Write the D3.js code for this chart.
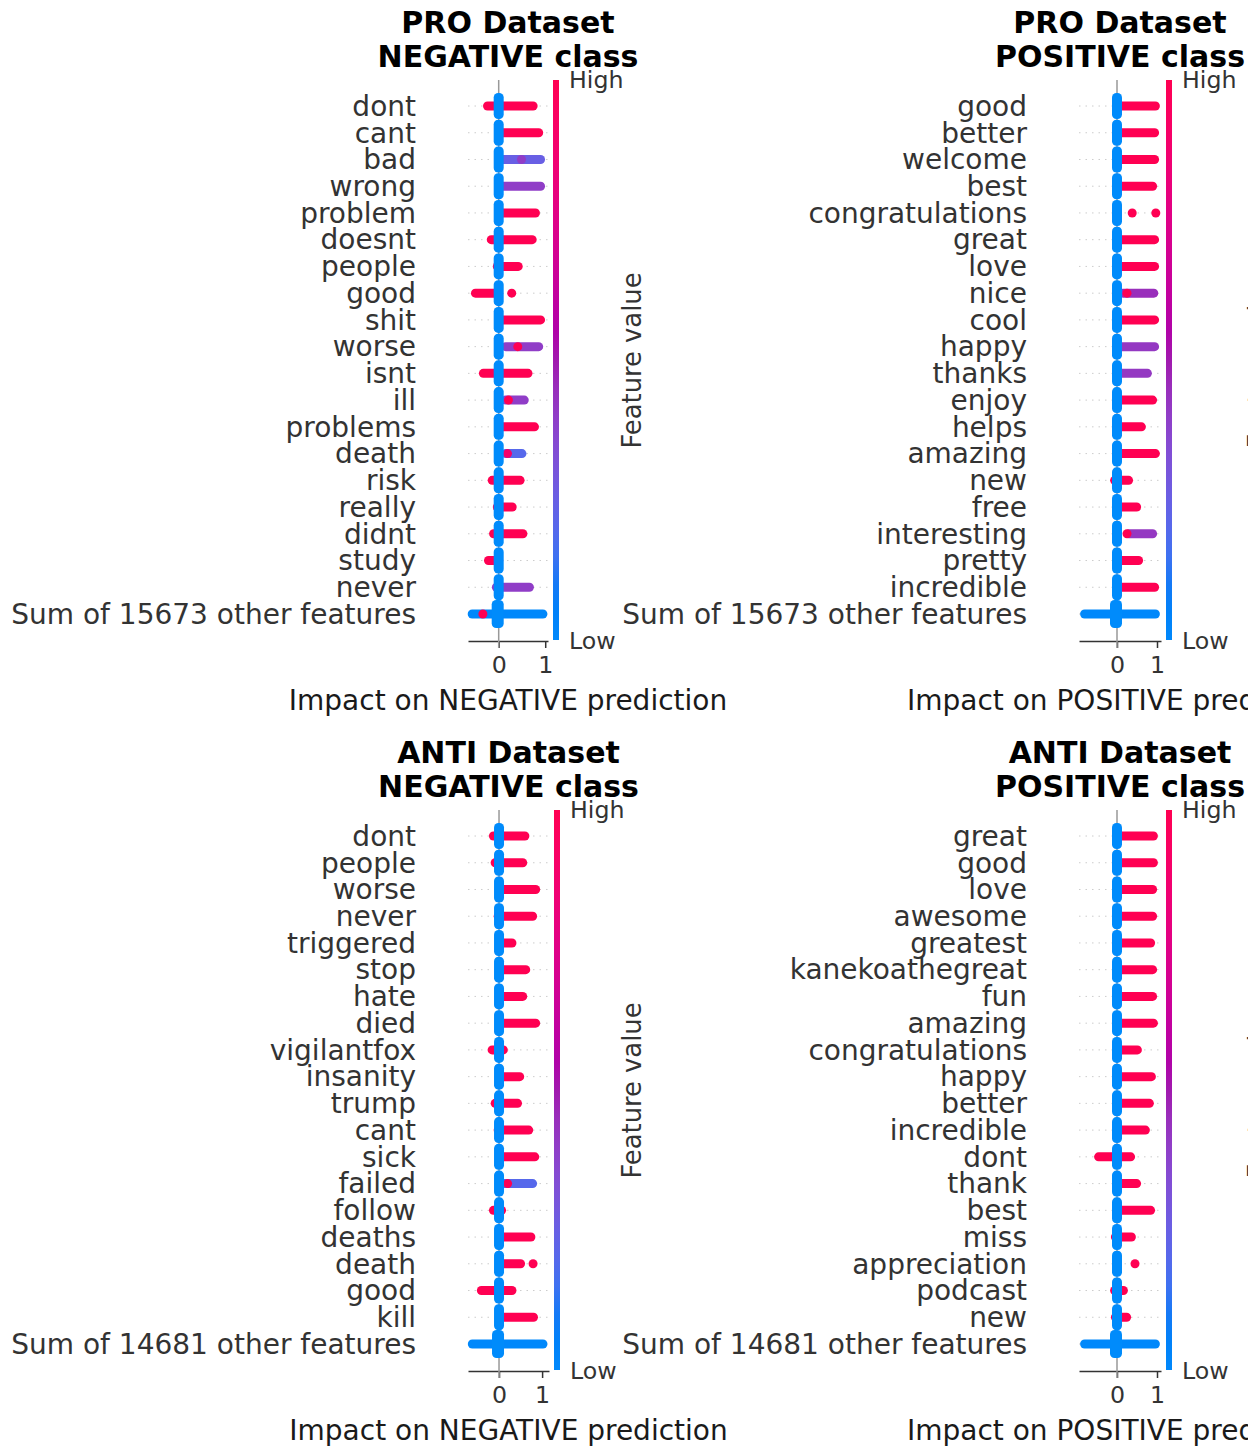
<!DOCTYPE html>
<html>
<head>
<meta charset="utf-8">
<script src="https://cdn.jsdelivr.net/npm/d3@7"></script>
<style>
body { margin: 0; background: #fff; }
svg { display: block; font-family: "DejaVu Sans", sans-serif; }
</style>
</head>
<body>
<svg id="chart"></svg>
<script>
// feature names per panel (top to bottom)
const proNegFeatures = ["dont", "cant", "bad", "wrong", "problem", "doesnt", "people", "good", "shit", "worse",
	"isnt", "ill", "problems", "death", "risk", "really", "didnt", "study", "never", "Sum of 15673 other features"];
const proPosFeatures = ["good", "better", "welcome", "best", "congratulations", "great", "love", "nice", "cool", "happy",
	"thanks", "enjoy", "helps", "amazing", "new", "free", "interesting", "pretty", "incredible", "Sum of 15673 other features"];
const antiNegFeatures = ["dont", "people", "worse", "never", "triggered", "stop", "hate", "died", "vigilantfox", "insanity",
	"trump", "cant", "sick", "failed", "follow", "deaths", "death", "good", "kill", "Sum of 14681 other features"];
const antiPosFeatures = ["great", "good", "love", "awesome", "greatest", "kanekoathegreat", "fun", "amazing", "congratulations", "happy",
	"better", "incredible", "dont", "thank", "best", "miss", "appreciation", "podcast", "new", "Sum of 14681 other features"];

// dense runs of SHAP values per row: [lowest, highest, feature value 0..1]
// (the big cloud of low-value points sitting on 0 is drawn separately)
const proNegRuns = [
	[[-0.24, 0.74, 1]],
	[[0.1, 0.86, 1]],
	[[0.1, 0.9, 0.25], [0.49, 0.49, 0.4]],
	[[0.1, 0.9, 0.4]],
	[[0.1, 0.79, 1]],
	[[-0.16, 0.72, 1]],
	[[-0.03, 0.42, 1]],
	[[-0.5, 0, 1], [0.28, 0.28, 1]],
	[[0.1, 0.9, 1]],
	[[0.15, 0.86, 0.4], [0.41, 0.41, 1]],
	[[-0.33, 0.63, 1]],
	[[0.15, 0.55, 0.4], [0.21, 0.21, 1]],
	[[0.05, 0.77, 1]],
	[[0.15, 0.5, 0.2], [0.19, 0.19, 0.9]],
	[[-0.14, 0.46, 1]],
	[[-0.03, 0.29, 1]],
	[[-0.11, 0.52, 1]],
	[[-0.22, 0, 1]],
	[[-0.05, 0.66, 0.4]],
	[[-0.57, 0.95, 0], [-0.34, -0.34, 1]]
];
const proPosRuns = [
	[[0.1, 0.96, 1]],
	[[0.1, 0.94, 1]],
	[[0.1, 0.94, 1]],
	[[0.1, 0.89, 1]],
	[[0.38, 0.38, 1], [0.97, 0.97, 1]],
	[[0.1, 0.94, 1]],
	[[0.1, 0.94, 1]],
	[[0.15, 0.92, 0.45], [0.25, 0.25, 1]],
	[[0.1, 0.94, 1]],
	[[0.1, 0.94, 0.42]],
	[[0.1, 0.76, 0.42]],
	[[0.1, 0.89, 1]],
	[[0.1, 0.61, 1]],
	[[0.1, 0.96, 1]],
	[[-0.06, 0.29, 1]],
	[[0.1, 0.49, 1]],
	[[0.3, 0.89, 0.42], [0.25, 0.25, 1]],
	[[0.1, 0.54, 1]],
	[[0.1, 0.94, 1]],
	[[-0.81, 0.96, 0]]
];
const antiNegRuns = [
	[[-0.13, 0.6, 1]],
	[[-0.09, 0.55, 1]],
	[[0.1, 0.85, 1]],
	[[-0.02, 0.78, 1]],
	[[0.1, 0.3, 1]],
	[[0.1, 0.62, 1]],
	[[0.1, 0.55, 1]],
	[[0.1, 0.85, 1]],
	[[-0.16, 0.1, 1]],
	[[0.1, 0.48, 1]],
	[[-0.09, 0.43, 1]],
	[[-0.02, 0.69, 1]],
	[[0.1, 0.83, 1]],
	[[0.1, 0.78, 0.2], [0.2, 0.2, 1]],
	[[-0.13, 0.06, 1]],
	[[0.1, 0.74, 1]],
	[[0.1, 0.5, 1], [0.79, 0.79, 1]],
	[[-0.41, 0.3, 1]],
	[[0.1, 0.8, 1]],
	[[-0.62, 1.02, 0]]
];
const antiPosRuns = [
	[[0.1, 0.91, 1]],
	[[0.1, 0.91, 1]],
	[[0.1, 0.89, 1]],
	[[0.1, 0.89, 1]],
	[[0.1, 0.84, 1]],
	[[0.1, 0.89, 1]],
	[[0.1, 0.89, 1]],
	[[0.1, 0.91, 1]],
	[[0.1, 0.51, 1]],
	[[0.1, 0.86, 1]],
	[[0.1, 0.81, 1]],
	[[0.1, 0.71, 1]],
	[[-0.46, 0.34, 1]],
	[[0.1, 0.49, 1]],
	[[0.1, 0.84, 1]],
	[[-0.04, 0.36, 1]],
	[[0.45, 0.45, 1]],
	[[-0.06, 0.16, 1]],
	[[-0.04, 0.24, 1]],
	[[-0.81, 0.96, 0]]
];

const titles = [["PRO Dataset", "NEGATIVE class"], ["PRO Dataset", "POSITIVE class"],
	["ANTI Dataset", "NEGATIVE class"], ["ANTI Dataset", "POSITIVE class"]];
const xLabels = ["Impact on NEGATIVE prediction", "Impact on POSITIVE prediction",
	"Impact on NEGATIVE prediction", "Impact on POSITIVE prediction"];
const xDomains = [[-0.66, 1.06], [-0.95, 1.1], [-0.72, 1.16], [-0.95, 1.1]];
const xTicks = [0, 1];

const featureSets = [proNegFeatures, proPosFeatures, antiNegFeatures, antiPosFeatures];
const runSets = [proNegRuns, proPosRuns, antiNegRuns, antiPosRuns];

const WIDTH = 1248;
const HEIGHT = 1446;
const BLUE = "#008bfb";
const DOT = 9;

// shap red_blue map, walked in LCh (blue -> purple -> red)
function shapColor(t) {
	const l = t < 0.5 ? 54 - 28 * t : 40 + 28 * (t - 0.5);
	const c = 70 + 20 * t;
	const h = 266.93 + t * (380.32 - 266.93);
	return d3.hcl(h, c, l).formatHex();
}

const svg = d3.select("#chart").attr("width", WIDTH).attr("height", HEIGHT);

const grad = svg.append("defs").append("linearGradient")
	.attr("id", "cbar").attr("x1", 0).attr("y1", 1).attr("x2", 0).attr("y2", 0);
grad.selectAll("stop")
	.data(d3.range(0, 1.0001, 0.05))
	.join("stop")
	.attr("offset", d => d)
	.attr("stop-color", d => shapColor(d));

const panels = [
	{ x0: 468, x1: 548, top: 0, fvGap: 84 },
	{ x0: 1079, x1: 1161, top: 0, fvGap: 97 },
	{ x0: 468, x1: 549, top: 730, fvGap: 83 },
	{ x0: 1079, x1: 1161, top: 730, fvGap: 97 },
];
const PLOT_TOP = 80;
const AXIS_Y = 641;

panels.forEach((p, i) => {
	const feats = featureSets[i];
	const g = svg.append("g").attr("transform", `translate(0,${p.top})`);
	const x = d3.scaleLinear(xDomains[i], [p.x0, p.x1]);
	const y = d3.scalePoint(feats, [106, 614]);
	const cx = (p.x0 + p.x1) / 2;
	const last = feats[feats.length - 1];

	// dotted row guides
	g.selectAll(".guide")
		.data(feats)
		.join("line")
		.attr("class", "guide")
		.attr("x1", p.x0).attr("x2", p.x1)
		.attr("y1", d => y(d)).attr("y2", d => y(d))
		.attr("stroke", "#cccccc")
		.attr("stroke-width", 1)
		.attr("stroke-dasharray", "1.5,5");

	const axis = g.append("g")
		.attr("transform", `translate(0,${AXIS_Y})`)
		.call(d3.axisBottom(x).tickValues(xTicks).tickSize(7).tickSizeOuter(0).tickPadding(8).tickFormat(d3.format("d")));
	axis.select(".domain").attr("stroke", "#333333").attr("stroke-width", 1.5);
	axis.selectAll(".tick line").attr("stroke", "#333333").attr("stroke-width", 1.5);
	axis.selectAll(".tick text")
		.attr("font-size", 23.7)
		.attr("font-family", "DejaVu Sans, sans-serif")
		.attr("fill", "#333333");

	g.append("line")
		.attr("x1", x(0)).attr("x2", x(0))
		.attr("y1", PLOT_TOP).attr("y2", AXIS_Y + 7)
		.attr("stroke", "#999999")
		.attr("stroke-width", 1.5);

	const runs = runSets[i]
		.flatMap((row, k) => row.map(r => ({ lo: r[0], hi: r[1], t: r[2], feat: feats[k] })))
		.sort((a, b) => a.t - b.t);

	g.selectAll(".run")
		.data(runs)
		.join("line")
		.attr("class", "run")
		.attr("x1", d => x(d.lo)).attr("x2", d => x(d.hi))
		.attr("y1", d => y(d.feat)).attr("y2", d => y(d.feat))
		.attr("stroke", d => shapColor(d.t))
		.attr("stroke-width", DOT)
		.attr("stroke-linecap", "round");

	// cloud of absent-word points piled on zero
	g.selectAll(".zero")
		.data(feats)
		.join("rect")
		.attr("class", "zero")
		.attr("x", d => x(0) - (d === last ? 7 : 5))
		.attr("width", d => (d === last ? 12 : 10))
		.attr("y", d => y(d) - (d === last ? 14 : 13))
		.attr("height", d => (d === last ? 28 : 26))
		.attr("rx", 4.5)
		.attr("fill", BLUE);

	g.selectAll(".flabel")
		.data(feats)
		.join("text")
		.attr("class", "flabel")
		.attr("x", p.x0 - 52)
		.attr("y", d => y(d))
		.attr("dy", "0.35em")
		.attr("text-anchor", "end")
		.attr("font-size", 28)
		.attr("fill", "#333333")
		.text(d => d);

	g.append("text")
		.attr("x", cx).attr("y", 700).attr("dy", "0.35em")
		.attr("text-anchor", "middle")
		.attr("font-size", 28)
		.attr("fill", "#1a1a1a")
		.text(xLabels[i]);

	g.selectAll(".title")
		.data(titles[i])
		.join("text")
		.attr("class", "title")
		.attr("x", cx)
		.attr("y", (d, k) => 22 + k * 34)
		.attr("dy", "0.35em")
		.attr("text-anchor", "middle")
		.attr("font-size", 30)
		.attr("font-weight", "bold")
		.attr("fill", "#000")
		.text(d => d);

	// colour bar
	const cbx = p.x1 + 5;
	g.append("rect")
		.attr("x", cbx).attr("y", PLOT_TOP)
		.attr("width", 6).attr("height", AXIS_Y - PLOT_TOP - 1)
		.attr("fill", "url(#cbar)");
	g.append("text")
		.attr("x", cbx + 16).attr("y", PLOT_TOP).attr("dy", "0.35em")
		.attr("font-size", 23.7).attr("fill", "#333333")
		.text("High");
	g.append("text")
		.attr("x", cbx + 16).attr("y", AXIS_Y).attr("dy", "0.35em")
		.attr("font-size", 23.7).attr("fill", "#333333")
		.text("Low");
	g.append("text")
		.attr("transform", `translate(${p.x1 + p.fvGap},${(PLOT_TOP + AXIS_Y) / 2}) rotate(-90)`)
		.attr("dy", "0.35em")
		.attr("text-anchor", "middle")
		.attr("font-size", 25.8).attr("fill", "#333333")
		.text("Feature value");
});
</script>
</body>
</html>
